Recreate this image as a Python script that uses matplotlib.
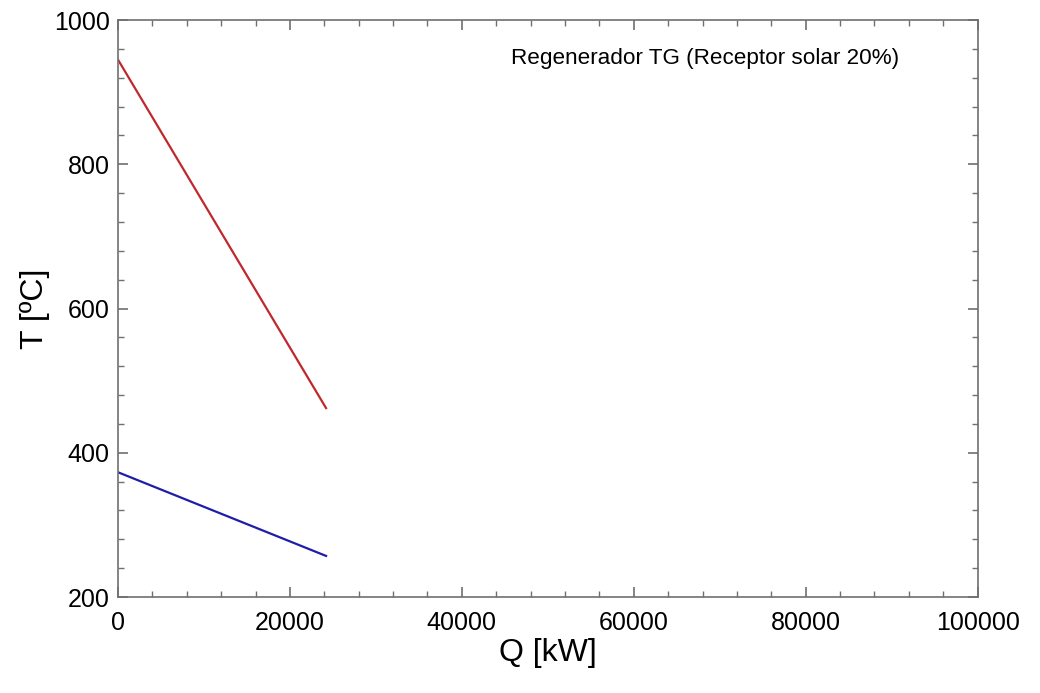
import matplotlib
matplotlib.use("Agg")
import matplotlib.pyplot as plt
from matplotlib.ticker import MultipleLocator

plt.rcParams['font.family'] = ['Liberation Sans', 'DejaVu Sans']

# hot side (gas) and cold side (air) of the regenerator
q_hot = [0, 24200]
t_hot = [945, 462]
q_cold = [0, 24200]
t_cold = [373, 257]

fig = plt.figure(figsize=(10.4, 6.93), dpi=100)
ax = fig.add_axes([0.1135, 0.1385, 0.8265, 0.8325])

ax.plot(q_hot, t_hot, color="#c0282c", lw=1.6)
ax.plot(q_cold, t_cold, color="#1e1ea8", lw=1.6)

ax.set_xlim(0, 100000)
ax.set_ylim(200, 1000)
ax.xaxis.set_major_locator(MultipleLocator(20000))
ax.xaxis.set_minor_locator(MultipleLocator(4000))
ax.yaxis.set_major_locator(MultipleLocator(200))
ax.yaxis.set_minor_locator(MultipleLocator(40))

for s in ax.spines.values():
    s.set_color("#707070")
    s.set_linewidth(1.2)

ax.tick_params(which="both", direction="in", top=True, right=True,
               color="#707070", labelsize=18)
ax.tick_params(axis="x", pad=10)
ax.tick_params(axis="y", pad=6)
ax.tick_params(which="major", length=7, width=1.2)
ax.tick_params(which="minor", length=4, width=1)

ax.set_xlabel("Q [kW]", fontsize=23, labelpad=2)
ax.set_ylabel("T [ºC]", fontsize=23, labelpad=3)

ax.text(0.909, 0.934, "Regenerador TG (Receptor solar 20%)", transform=ax.transAxes,
        ha="right", va="center", fontsize=16.2)

fig.savefig("out.png", dpi=100)
